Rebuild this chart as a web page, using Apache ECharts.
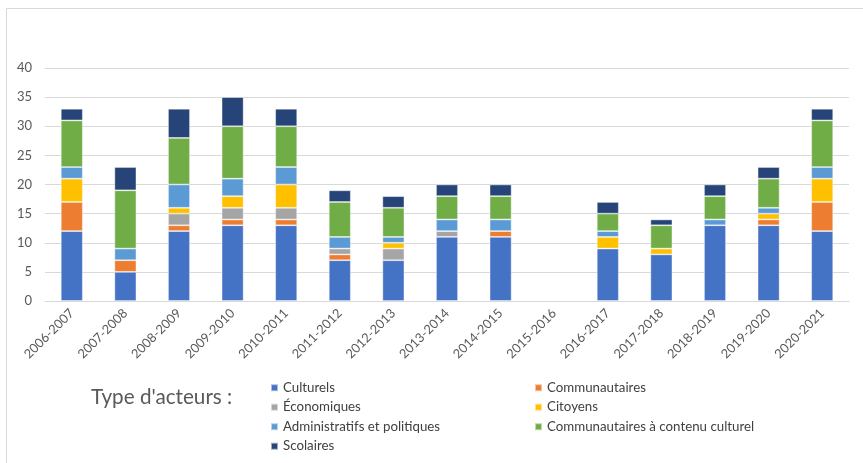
<!DOCTYPE html>
<html>
<head>
<meta charset="utf-8">
<script src="https://cdn.jsdelivr.net/npm/echarts@6/dist/echarts.min.js"></script>
<style>
html,body{margin:0;padding:0;background:#fff;}
#chart{width:863px;height:463px;}
</style>
</head>
<body>
<div id="chart"></div>
<script>
var categories = ['2006-2007','2007-2008','2008-2009','2009-2010','2010-2011','2011-2012','2012-2013','2013-2014','2014-2015','2015-2016','2016-2017','2017-2018','2018-2019','2019-2020','2020-2021'];
var culturels      = [12, 5, 12, 13, 13, 7, 7, 11, 11, 0, 9, 8, 13, 13, 12];
var communautaires = [5, 2, 1, 1, 1, 1, 0, 0, 1, 0, 0, 0, 0, 1, 5];
var economiques    = [0, 0, 2, 2, 2, 1, 2, 1, 0, 0, 0, 0, 0, 0, 0];
var citoyens       = [4, 0, 1, 2, 4, 0, 1, 0, 0, 0, 2, 1, 0, 1, 4];
var administratifs = [2, 2, 4, 3, 3, 2, 1, 2, 2, 0, 1, 0, 1, 1, 2];
var commCulturel   = [8, 10, 8, 9, 7, 6, 5, 4, 4, 0, 3, 4, 4, 5, 8];
var scolaires      = [2, 4, 5, 5, 3, 2, 2, 2, 2, 0, 2, 1, 2, 2, 2];
var yTicks = [0, 5, 10, 15, 20, 25, 30, 35, 40];

var seriesDefs = [
  {name:'Culturels', data:culturels, color:'#4472C4'},
  {name:'Communautaires', data:communautaires, color:'#ED7D31'},
  {name:'Économiques', data:economiques, color:'#A5A5A5'},
  {name:'Citoyens', data:citoyens, color:'#FFC000'},
  {name:'Administratifs et politiques', data:administratifs, color:'#5B9BD5'},
  {name:'Communautaires à contenu culturel', data:commCulturel, color:'#70AD47'},
  {name:'Scolaires', data:scolaires, color:'#264478'}
];

var FONT = 'Lato, "Open Sans", sans-serif';
var chart = echarts.init(document.getElementById('chart'), null, {renderer:'canvas'});
var legendText = {color:'#404040', fontSize:13.3, lineHeight:14, fontFamily:FONT};
chart.setOption({
  animation:false,
  backgroundColor:'#fff',
  graphic:[{type:'rect', shape:{x:6.5, y:8.5, width:870, height:470}, style:{fill:'none', stroke:'#d9d9d9', lineWidth:1}, silent:true}],
  title:{text:"Type d'acteurs :", left:91, top:387, padding:0, textStyle:{fontSize:20.7, fontWeight:'normal', color:'#595959', fontFamily:FONT}},
  legend:[
    {data:['Culturels','Économiques','Administratifs et politiques','Scolaires'], orient:'vertical', left:270, top:380.7, padding:0, itemWidth:7, itemHeight:7, itemGap:5.5, icon:'rect', textStyle:legendText},
    {data:['Communautaires','Citoyens','Communautaires à contenu culturel'], orient:'vertical', left:534, top:380.7, padding:0, itemWidth:7, itemHeight:7, itemGap:5.5, icon:'rect', textStyle:legendText}
  ],
  grid:{left:45, right:14, top:68, bottom:162, containLabel:false},
  xAxis:{type:'category', data:categories,
    axisLine:{lineStyle:{color:'#d9d9d9'}}, axisTick:{show:false},
    axisLabel:{rotate:45, interval:0, color:'#595959', fontSize:12.8, fontFamily:FONT, margin:10}},
  yAxis:{type:'value', min:yTicks[0], max:yTicks[yTicks.length-1], interval:5,
    axisLine:{show:false}, axisTick:{show:false},
    splitLine:{lineStyle:{color:'#d9d9d9'}},
    axisLabel:{color:'#595959', fontSize:13, fontFamily:FONT, margin:13}},
  series:seriesDefs.map(function(s){
    return {name:s.name, type:'bar', stack:'total', barWidth:22,
      itemStyle:{color:s.color, borderColor:'rgba(255,255,255,0.55)', borderWidth:0.8},
      data:s.data.map(function(v){return v===0?null:v;})};
  })
});
</script>
</body>
</html>
